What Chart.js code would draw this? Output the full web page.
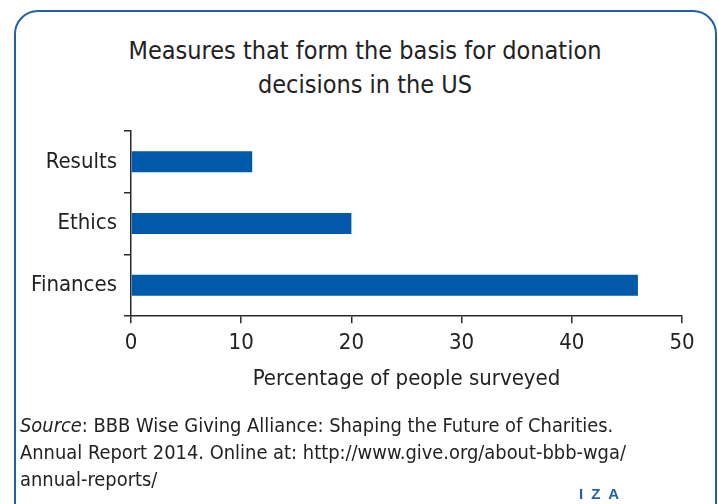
<!DOCTYPE html>
<html>
<head>
<meta charset="utf-8">
<script src="https://cdn.jsdelivr.net/npm/chart.js@4"></script>
<style>
  html, body { margin: 0; padding: 0; background: #fff; }
  body { width: 718px; height: 504px; position: relative; overflow: hidden;
         font-family: "Liberation Sans Narrow", "DejaVu Sans Condensed", sans-serif; color: #222; }
  .frame { position: absolute; left: 14px; top: 10px; width: 703px; height: 520px;
           border: 2.5px solid #1f60aa; border-radius: 24px; box-sizing: border-box; }
  .title { position: absolute; left: 0; width: 730px; top: 34px; text-align: center;
           font-size: 25px; line-height: 34px; color: #222; }
  #chart-box { position: absolute; left: 0; top: 0; width: 718px; height: 504px; }
  .source { position: absolute; left: 20px; top: 413px; font-size: 19.9px; line-height: 26.8px; color: #222; }
  .iza { position: absolute; left: 579px; top: 485px; font-size: 15px; font-weight: bold; letter-spacing: 8px;
         color: #1f60aa; font-family: "Liberation Sans", sans-serif; }
</style>
</head>
<body>
<div class="frame"></div>
<div class="title">Measures that form the basis for donation<br>decisions in the US</div>
<div id="chart-box"><canvas id="chart" width="718" height="504"></canvas></div>
<div class="source"><i>Source</i>: BBB Wise Giving Alliance: Shaping the Future of Charities.<br>Annual Report 2014. Online at: http://www.give.org/about-bbb-wga/<br>annual-reports/</div>
<div class="iza">IZA</div>
<script>
const categories = ['Results', 'Ethics', 'Finances'];
const percentValues = [11, 20, 46];
const xTicks = [0, 10, 20, 30, 40, 50];

const FONT = '"Liberation Sans Narrow", "DejaVu Sans Condensed", sans-serif';
const BAR_BLUE = '#005aa9';
const AXIS = '#2a2a2a';

const ctx = document.getElementById('chart').getContext('2d');
new Chart(ctx, {
    type: 'bar',
    data: {
        labels: categories,
        datasets: [{
            data: percentValues,
            backgroundColor: BAR_BLUE,
            borderWidth: 0,
            categoryPercentage: 1,
            barPercentage: 0.34
        }]
    },
    options: {
        indexAxis: 'y',
        responsive: false,
        animation: false,
        layout: { padding: { top: 131, right: 36, bottom: 112, left: 0 } },
        plugins: { legend: { display: false }, tooltip: { enabled: false } },
        scales: {
            x: {
                min: 0,
                max: 50,
                afterBuildTicks: (scale) => { scale.ticks = xTicks.map(v => ({ value: v })); },
                grid: { drawOnChartArea: false, tickLength: 7, color: AXIS, lineWidth: 1.5 },
                border: { color: AXIS, width: 1.5 },
                ticks: { padding: 7, color: '#222', font: { family: FONT, size: 22 } },
                title: {
                    display: true,
                    text: 'Percentage of people surveyed',
                    color: '#222',
                    font: { family: FONT, size: 22 },
                    padding: { top: 2, bottom: 0 }
                }
            },
            y: {
                afterFit: (scale) => { scale.width = 131; },
                grid: { drawOnChartArea: false, offset: true, tickLength: 7, color: AXIS, lineWidth: 1.5 },
                border: { color: AXIS, width: 1.5 },
                ticks: { padding: 7, color: '#222', font: { family: FONT, size: 22 } }
            }
        }
    }
});
</script>
</body>
</html>
